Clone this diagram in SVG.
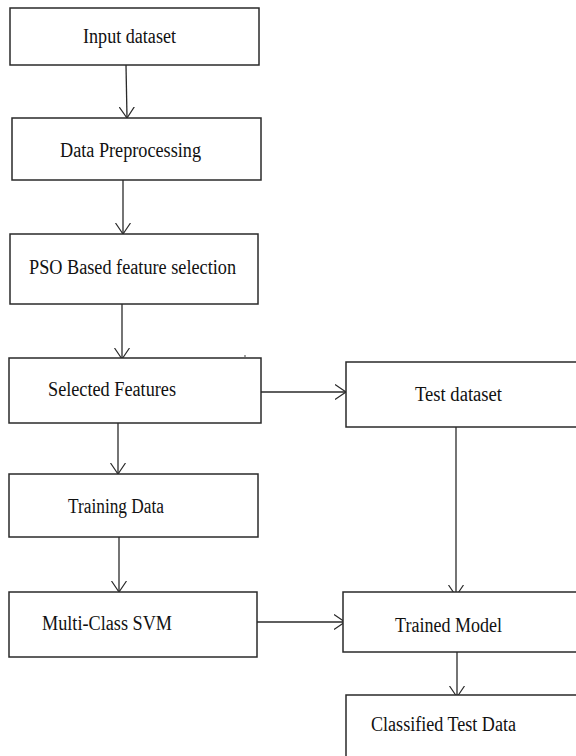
<svg xmlns="http://www.w3.org/2000/svg" width="576" height="756" viewBox="0 0 576 756">
<style>
.box{fill:#fff;stroke:#2a2a2a;stroke-width:1.5}
.lbl{font-family:"Liberation Serif","Times New Roman",serif;font-size:20px;fill:#111}
.con{stroke:#2a2a2a;stroke-width:1.3;fill:none}
</style>
<defs>
<marker id="v" viewBox="0 0 11 16" refX="11" refY="8" markerWidth="11" markerHeight="16" markerUnits="userSpaceOnUse" orient="auto">
<path d="M0,0.5 L11,8 L0,15.5" fill="none" stroke="#2a2a2a" stroke-width="1.2"/>
</marker>
</defs>
<rect width="576" height="756" fill="#fff"/>
<g id="connectors">
<line class="con" x1="126" y1="65" x2="127" y2="118" marker-end="url(#v)"/>
<line class="con" x1="123" y1="180" x2="123" y2="234" marker-end="url(#v)"/>
<line class="con" x1="122" y1="304" x2="122" y2="359" marker-end="url(#v)"/>
<line class="con" x1="261" y1="392" x2="346" y2="392" marker-end="url(#v)"/>
<line class="con" x1="118" y1="423" x2="118" y2="474" marker-end="url(#v)"/>
<line class="con" x1="119" y1="537" x2="119" y2="592" marker-end="url(#v)"/>
<line class="con" x1="456" y1="424" x2="456" y2="596" marker-end="url(#v)"/>
<line class="con" x1="255" y1="622" x2="345" y2="622" marker-end="url(#v)"/>
<line class="con" x1="457" y1="652" x2="457" y2="697" marker-end="url(#v)"/>
</g>
<g id="n1"><rect class="box" x="10" y="8" width="249" height="57"/><text class="lbl" x="83" y="43" textLength="93" lengthAdjust="spacingAndGlyphs">Input dataset</text></g>
<g id="n2"><rect class="box" x="12" y="118" width="249" height="62"/><text class="lbl" x="60" y="157" textLength="141" lengthAdjust="spacingAndGlyphs">Data Preprocessing</text></g>
<g id="n3"><rect class="box" x="10" y="234" width="248" height="70"/><text class="lbl" x="29" y="274" textLength="207" lengthAdjust="spacingAndGlyphs">PSO Based feature selection</text></g>
<g id="n4"><rect class="box" x="9" y="358" width="252" height="65"/><text class="lbl" x="48" y="396" textLength="128" lengthAdjust="spacingAndGlyphs">Selected Features</text></g>
<circle cx="245" cy="356" r="0.8" fill="#2a2a2a"/>
<g id="n5"><rect class="box" x="346" y="362" width="240" height="65"/><text class="lbl" x="415" y="401" textLength="87" lengthAdjust="spacingAndGlyphs">Test dataset</text></g>
<g id="n6"><rect class="box" x="9" y="474" width="249" height="63"/><text class="lbl" x="68" y="513" textLength="96" lengthAdjust="spacingAndGlyphs">Training Data</text></g>
<g id="n7"><rect class="box" x="9" y="592" width="248" height="65"/><text class="lbl" x="42" y="630" textLength="130" lengthAdjust="spacingAndGlyphs">Multi-Class SVM</text></g>
<g id="n8"><rect class="box" x="343" y="592" width="243" height="60"/><text class="lbl" x="395" y="632" textLength="107" lengthAdjust="spacingAndGlyphs">Trained Model</text></g>
<g id="n9"><rect class="box" x="346" y="695" width="240" height="70"/><text class="lbl" x="371" y="731" textLength="145" lengthAdjust="spacingAndGlyphs">Classified Test Data</text></g>
</svg>
